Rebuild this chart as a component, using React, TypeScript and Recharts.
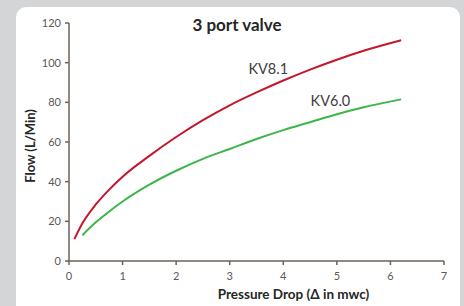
import { LineChart, Line, XAxis, YAxis, Label, ReferenceDot } from 'recharts'

// Pressure drop (mwc) -> flow (L/min)
const kv81Drop = [0.1, 0.25, 0.5, 0.75, 1, 1.5, 2, 2.5, 3, 3.5, 4, 4.5, 5, 5.5, 6.2]
const kv81Flow = [11, 19, 28.5, 36, 42.5, 53, 62.5, 71, 78.5, 85, 91, 96.5, 101.5, 106, 111.3]

const kv60Drop = [0.25, 0.5, 0.75, 1, 1.5, 2, 2.5, 3, 3.5, 4, 4.5, 5, 5.5, 6.2]
const kv60Flow = [13, 19.5, 25, 30, 38.5, 45.5, 51.5, 56.5, 61.5, 66, 70, 74, 77.5, 81.5]

const xTicks = [0, 1, 2, 3, 4, 5, 6, 7]
const yTicks = [0, 20, 40, 60, 80, 100, 120]

// where the curve names sit (data space)
const kv81LabelPos = { x: 3.72, y: 96.8 }
const kv60LabelPos = { x: 4.88, y: 80.7 }

const kv81 = kv81Drop.map((x, i) => ({ x, y: kv81Flow[i] }))
const kv60 = kv60Drop.map((x, i) => ({ x, y: kv60Flow[i] }))

const axisColor = '#6f6058'
const font = 'Lato, "Open Sans", sans-serif'

export default function App() {
  return (
    <div style={{ position: 'absolute', left: 0, top: 0, width: 464, height: 306, background: '#d4d5d7', overflow: 'hidden' }}>
      {/* white card */}
      <div style={{ position: 'absolute', left: 16, top: 7, width: 444, height: 320, background: '#fff', borderRadius: 10 }} />

      <div style={{ position: 'absolute', left: 0, top: 13, width: 474, textAlign: 'center', fontFamily: font, fontWeight: 700, fontSize: 17, color: '#262626', lineHeight: '24px' }}>
        3 port valve
      </div>

      <div style={{ position: 'absolute', left: 0, top: 0 }}>
        <LineChart width={464} height={306} margin={{ top: 23, right: 20, bottom: 0, left: 0 }}>
          <XAxis
            type="number"
            dataKey="x"
            domain={[0, 7]}
            ticks={xTicks}
            height={45}
            tickSize={4}
            tickMargin={7}
            tick={{ fontSize: 11, fill: '#595959', fontFamily: font }}
            stroke={axisColor}
            strokeWidth={1.5}
          >
            <Label
              value="Pressure Drop (Δ in mwc)"
              position="insideBottom"
              offset={7}
              dx={37}
              style={{ fontSize: 13.5, fontWeight: 700, fill: '#262626', fontFamily: font }}
            />
          </XAxis>
          <YAxis
            type="number"
            domain={[0, 120]}
            ticks={yTicks}
            width={69}
            tickSize={4}
            tickMargin={4}
            tick={{ fontSize: 11, fill: '#595959', fontFamily: font }}
            stroke={axisColor}
            strokeWidth={1.5}
          >
            <Label
              value="Flow (L/Min)"
              angle={-90}
              position="center"
              dx={-4}
              dy={4}
              style={{ fontSize: 13, fontWeight: 700, fill: '#262626', fontFamily: font }}
            />
          </YAxis>
          <Line data={kv81} dataKey="y" type="monotone" stroke="#c4172c" strokeWidth={2} dot={false} isAnimationActive={false} />
          <Line data={kv60} dataKey="y" type="monotone" stroke="#3cb64a" strokeWidth={2} dot={false} isAnimationActive={false} />
          <ReferenceDot x={kv81LabelPos.x} y={kv81LabelPos.y} r={0} stroke="none" fill="none">
            <Label value="KV8.1" position="center" style={{ fontSize: 14.5, fill: '#404040', fontFamily: font }} />
          </ReferenceDot>
          <ReferenceDot x={kv60LabelPos.x} y={kv60LabelPos.y} r={0} stroke="none" fill="none">
            <Label value="KV6.0" position="center" style={{ fontSize: 14.5, fill: '#404040', fontFamily: font }} />
          </ReferenceDot>
        </LineChart>
      </div>
    </div>
  )
}
